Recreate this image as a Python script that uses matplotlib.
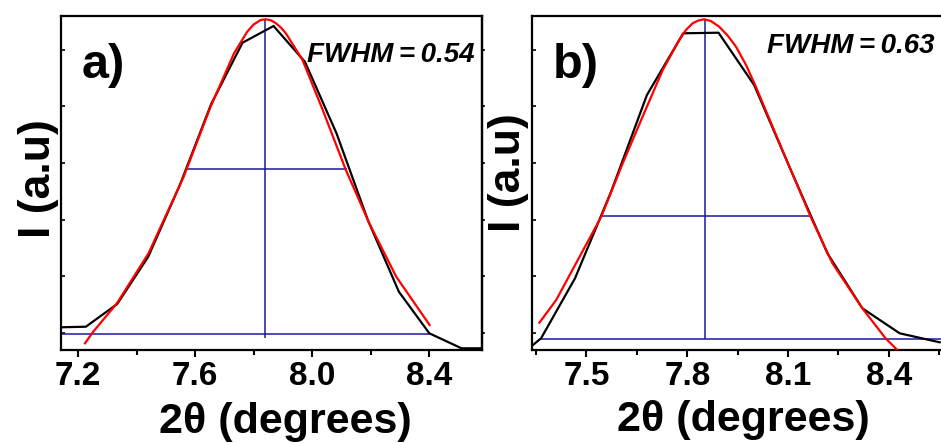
import numpy as np
import matplotlib
matplotlib.use("Agg")
import matplotlib.pyplot as plt
from matplotlib.ticker import FixedLocator

plt.rcParams['font.family'] = ['Liberation Sans', 'DejaVu Sans']
plt.rcParams['font.weight'] = 'bold'

# panel a) measured pattern (black) and gaussian fit (red)
xa_data = [7.142, 7.227, 7.334, 7.44, 7.548, 7.655, 7.762, 7.868, 7.975, 8.083,
           8.19, 8.296, 8.40, 8.51, 8.58]
ya_data = [22.7, 23.3, 46, 93.3, 165, 246, 307.3, 324, 288.3, 216.7,
           130, 58.3, 16.7, 1.7, 1.7]
xa_fit = [7.224, 7.252, 7.333, 7.441, 7.561, 7.653, 7.733, 7.778, 7.80, 7.824, 7.841,
          7.858, 7.875, 7.893, 7.910, 7.967, 8.036, 8.115, 8.195, 8.287, 8.401]
ya_fit = [6.7, 18.3, 46.7, 96.7, 173.3, 243.3, 296.7, 318.3, 325.5, 330, 330.7,
          329.8, 327, 322.5, 316.7, 290, 240, 180, 126.7, 73.3, 25]
# FWHM construction lines: centre, half-max level/limits, baseline/limits
a_centre, a_top, a_bottom = 7.838, 330.7, 11.7
a_half, a_half_lo, a_half_hi = 181, 7.567, 8.118
a_base, a_base_lo, a_base_hi = 15.7, 7.142, 8.401

# panel b)
xb_data = [7.33, 7.365, 7.466, 7.573, 7.68, 7.788, 7.893, 7.999, 8.108, 8.217,
           8.321, 8.432, 8.551]
yb_data = [2, 11.7, 71.7, 158, 255, 316.7, 317.3, 265, 180, 96.7,
           41.7, 16.7, 7.7]
xb_fit = [7.360, 7.410, 7.469, 7.544, 7.608, 7.667, 7.727, 7.776, 7.796, 7.816, 7.833,
          7.850, 7.870, 7.895, 7.920, 7.945, 7.975, 8.004, 8.083, 8.167, 8.232,
          8.321, 8.390, 8.425]
yb_fit = [27.3, 50, 86.7, 133.3, 186.7, 233.3, 280, 310, 320, 326.7, 329.5,
          330.7, 329, 323.3, 314.5, 303.3, 285, 263.3, 200, 133.3, 86.7,
          41.7, 11.7, 0]
b_centre, b_top, b_bottom = 7.853, 330.7, 10.7
b_half, b_half_lo, b_half_hi = 134, 7.544, 8.167
b_base, b_base_lo, b_base_hi = 10.7, 7.360, 8.56

blue = '#1a1a9c'
ytick_pos = [17, 73.7, 130.3, 187, 243.7, 300.3]

fig = plt.figure(figsize=(9.41, 4.43), dpi=100)
axa = fig.add_axes([61/941, 1-350/443, 421/941, 334/443])
axb = fig.add_axes([532/941, 1-350/443, 409/941, 334/443])

panels = [
    (axa, xa_data, ya_data, xa_fit, ya_fit,
     (a_centre, a_top, a_bottom), (a_half, a_half_lo, a_half_hi), (a_base, a_base_lo, a_base_hi),
     (7.142, 8.58), [7.2, 7.6, 8.0, 8.4], [7.4, 7.8, 8.2], 'a)'),
    (axb, xb_data, yb_data, xb_fit, yb_fit,
     (b_centre, b_top, b_bottom), (b_half, b_half_lo, b_half_hi), (b_base, b_base_lo, b_base_hi),
     (7.338, 8.555), [7.5, 7.8, 8.1, 8.4], [7.35, 7.65, 7.95, 8.25, 8.55], 'b)'),
]

for ax, xd, yd, xf, yf, vl, hl, bl, xlim, major, minor, tag in panels:
    ax.plot(xd, yd, color='black', lw=1.6, zorder=3)
    ax.plot(xf, yf, color='red', lw=1.6, zorder=4)
    ax.vlines(vl[0], vl[2], vl[1], color=blue, lw=1.1, zorder=2)
    ax.hlines(hl[0], hl[1], hl[2], color=blue, lw=1.1, zorder=2)
    ax.hlines(bl[0], bl[1], bl[2], color=blue, lw=1.1, zorder=2)
    ax.set_xlim(*xlim)
    ax.set_ylim(0, 334)
    ax.xaxis.set_major_locator(FixedLocator(major))
    ax.xaxis.set_minor_locator(FixedLocator(minor))
    ax.set_xticklabels([f'{v:.1f}' for v in major])
    ax.set_yticks(ytick_pos)
    ax.set_yticklabels([])
    ax.tick_params(axis='x', which='major', direction='out', length=5, width=1.5,
                   labelsize=24, pad=3)
    ax.tick_params(axis='x', which='minor', direction='out', length=3.5, width=1.5)
    ax.tick_params(axis='y', direction='in', length=3, width=1.2)
    for lab in ax.get_xticklabels():
        lab.set_fontweight('bold')
    for s in ax.spines.values():
        s.set_linewidth(1.6)
    ax.text(0.050, 0.814, tag, transform=ax.transAxes, fontsize=35,
            fontweight='bold', ha='left', va='baseline')

axb.spines['right'].set_visible(False)
sec = axa.secondary_yaxis('right')
sec.set_yticks(ytick_pos)
sec.set_yticklabels([])
sec.tick_params(direction='out', length=2, width=1.2)
sec.spines['right'].set_linewidth(1.6)

axa.text(0.983, 0.863, 'FWHM\u2009=\u20090.54', transform=axa.transAxes, fontsize=20,
         fontweight='bold', fontstyle='italic', ha='right', va='baseline')
axb.text(0.985, 0.890, 'FWHM\u2009=\u20090.63', transform=axb.transAxes, fontsize=20,
         fontweight='bold', fontstyle='italic', ha='right', va='baseline')

axa.text(0.532, -0.248, '2θ (degrees)', transform=axa.transAxes, fontsize=31,
         fontweight='bold', ha='center', va='baseline')
axb.text(0.516, -0.243, '2θ (degrees)', transform=axb.transAxes, fontsize=31,
         fontweight='bold', ha='center', va='baseline')

axa.text(-0.026, 0.513, 'I (a.u)', transform=axa.transAxes, fontsize=32,
         fontweight='bold', rotation=90, rotation_mode='anchor',
         ha='center', va='baseline')
axb.text(-0.029, 0.531, 'I (a.u)', transform=axb.transAxes, fontsize=32,
         fontweight='bold', rotation=90, rotation_mode='anchor',
         ha='center', va='baseline')

fig.savefig('out.png', dpi=100)
